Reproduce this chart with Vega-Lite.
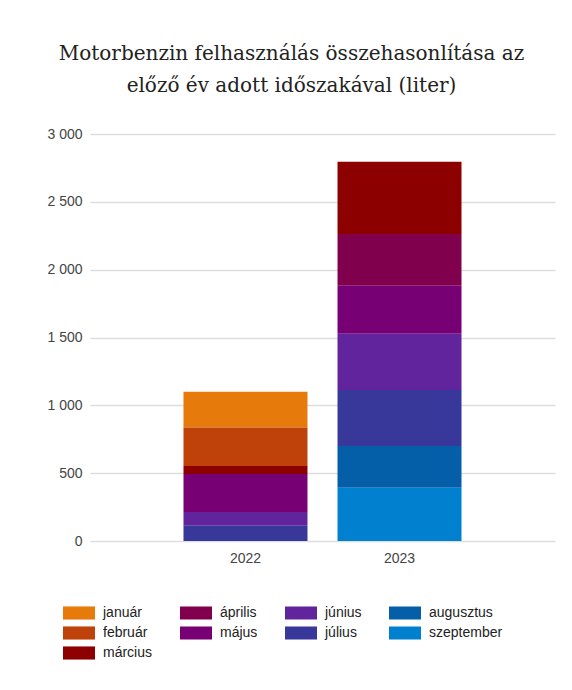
{
  "$schema": "https://vega.github.io/schema/vega-lite/v6.json",
  "width": 465,
  "height": 407,
  "autosize": "none",
  "padding": {"left": 90, "top": 134, "right": 17, "bottom": 149},
  "background": "white",
  "title": {
    "text": ["Motorbenzin felhasználás összehasonlítása az", "előző év adott időszakával (liter)"],
    "font": "DejaVu Serif",
    "fontSize": 20,
    "fontWeight": "normal",
    "color": "#222222",
    "lineHeight": 32,
    "anchor": "middle",
    "baseline": "alphabetic",
    "dx": -31,
    "offset": 15
  },
  "data": {
    "values": [
      {"ev": "2022", "honap": "január", "idx": 1, "liter": 264},
      {"ev": "2022", "honap": "február", "idx": 2, "liter": 283},
      {"ev": "2022", "honap": "március", "idx": 3, "liter": 59},
      {"ev": "2022", "honap": "május", "idx": 5, "liter": 280},
      {"ev": "2022", "honap": "június", "idx": 6, "liter": 101},
      {"ev": "2022", "honap": "július", "idx": 7, "liter": 113},
      {"ev": "2023", "honap": "március", "idx": 3, "liter": 533},
      {"ev": "2023", "honap": "április", "idx": 4, "liter": 381},
      {"ev": "2023", "honap": "május", "idx": 5, "liter": 353},
      {"ev": "2023", "honap": "június", "idx": 6, "liter": 415},
      {"ev": "2023", "honap": "július", "idx": 7, "liter": 413},
      {"ev": "2023", "honap": "augusztus", "idx": 8, "liter": 307},
      {"ev": "2023", "honap": "szeptember", "idx": 9, "liter": 393}
    ]
  },
  "mark": {"type": "bar"},
  "encoding": {
    "x": {
      "field": "ev",
      "type": "nominal",
      "scale": {"paddingInner": 0.195, "paddingOuter": 0.607},
      "axis": {
        "title": null,
        "labelAngle": 0,
        "ticks": false,
        "domain": false,
        "labelFont": "Liberation Sans",
        "labelFontSize": 14,
        "labelColor": "#444444",
        "labelPadding": 10
      }
    },
    "y": {
      "field": "liter",
      "type": "quantitative",
      "aggregate": "sum",
      "stack": "zero",
      "scale": {"domain": [0, 3000], "nice": false},
      "axis": {
        "title": null,
        "values": [0, 500, 1000, 1500, 2000, 2500, 3000],
        "labelExpr": "replace(format(datum.value, ','), ',', ' ')",
        "ticks": false,
        "domain": false,
        "grid": true,
        "gridColor": "#dddddd",
        "gridWidth": 1.5,
        "labelFont": "Liberation Sans",
        "labelFontSize": 14,
        "labelColor": "#444444",
        "labelPadding": 8
      }
    },
    "order": {"field": "idx", "type": "quantitative", "sort": "descending"},
    "color": {
      "field": "honap",
      "type": "nominal",
      "scale": {
        "domain": ["január", "április", "június", "augusztus", "február", "május", "július", "szeptember", "március"],
        "range": ["#e67a0a", "#80004e", "#62249c", "#045ea8", "#bf420b", "#770075", "#37389a", "#0080cf", "#8c0000"]
      },
      "legend": {
        "title": null,
        "orient": "none",
        "legendX": -27,
        "legendY": 469,
        "direction": "horizontal",
        "columns": 4,
        "columnPadding": 27,
        "rowPadding": 0,
        "clipHeight": 20,
        "symbolType": "M-1,-0.41H1V0.41H-1Z",
        "symbolSize": 1024,
        "symbolStrokeWidth": 0,
        "labelFont": "Liberation Sans",
        "labelFontSize": 14,
        "labelColor": "#222222",
        "labelOffset": 8,
        "labelLimit": 200
      }
    }
  },
  "config": {
    "view": {"stroke": null},
    "bar": {"stroke": null}
  }
}
